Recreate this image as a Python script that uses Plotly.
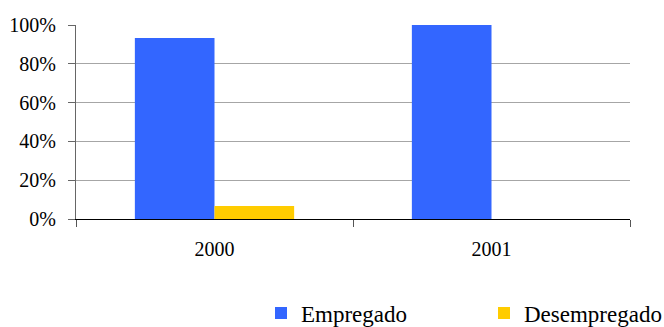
import plotly.graph_objects as go

# Employment status shares by year
anos = ["2000", "2001"]
empregado = [93.3, 100.0]
desempregado = [6.7, 0.0]
y_ticks = [0, 20, 40, 60, 80, 100]
y_tick_text = ["0%", "20%", "40%", "60%", "80%", "100%"]

FONT = "Times New Roman"

fig = go.Figure()
fig.add_trace(go.Bar(name="Empregado", x=anos, y=empregado,
                     marker=dict(color="#3366FF", line=dict(width=0))))
fig.add_trace(go.Bar(name="Desempregado", x=anos, y=desempregado,
                     marker=dict(color="#FFCC00", line=dict(width=0))))

fig.update_layout(
    width=664, height=327,
    margin=dict(l=76, r=34, t=25, b=108, autoexpand=False),
    paper_bgcolor="white", plot_bgcolor="white",
    barmode="group", bargap=0.425, bargroupgap=0,
    font=dict(family=FONT, size=20, color="black"),
    showlegend=True,
    legend=dict(orientation="h", xref="container", yref="container",
                x=261 / 664, xanchor="left", y=(327 - 313) / 327, yanchor="middle",
                font=dict(family=FONT, size=23, color="black"),
                entrywidth=178, bgcolor="rgba(0,0,0,0)"),
)
fig.update_xaxes(
    showline=True, linecolor="black", linewidth=1,
    ticks="outside", tickson="boundaries", ticklen=7, tickcolor="#555555",
    ticklabelstandoff=12, showgrid=False,
    tickfont=dict(family=FONT, size=20, color="black"),
)
fig.update_yaxes(
    range=[0, 100], tickvals=y_ticks, ticktext=y_tick_text,
    showline=True, linecolor="#666666", linewidth=1,
    ticks="outside", ticklen=7, tickcolor="#666666",
    showgrid=True, gridcolor="#A6A6A6", gridwidth=1,
    zeroline=False, ticklabelstandoff=8,
    tickfont=dict(family=FONT, size=20, color="black"),
)

fig.write_html("out.html")
